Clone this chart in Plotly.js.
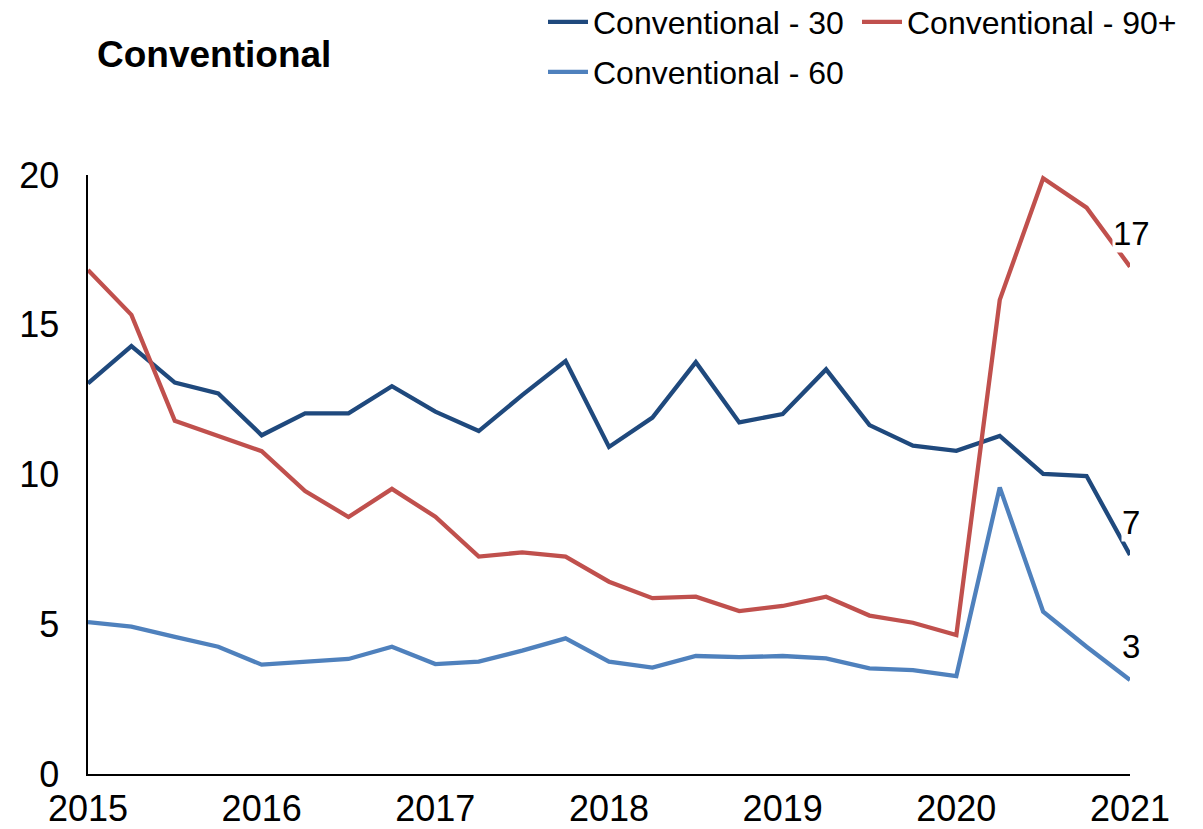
<!DOCTYPE html>
<html>
<head>
<meta charset="utf-8">
<script src="https://cdn.plot.ly/plotly-3.0.1.min.js"></script>
<style>
  html, body { margin: 0; padding: 0; background: #ffffff; }
  #chart { width: 1203px; height: 829px; }
</style>
</head>
<body>
<div id="chart"></div>
<script>
// Quarterly observations, 2015 Q1 .. 2021 Q1 (fractional years)
const quarters = [2015, 2015.25, 2015.5, 2015.75,
                  2016, 2016.25, 2016.5, 2016.75,
                  2017, 2017.25, 2017.5, 2017.75,
                  2018, 2018.25, 2018.5, 2018.75,
                  2019, 2019.25, 2019.5, 2019.75,
                  2020, 2020.25, 2020.5, 2020.75,
                  2021];

const seriesNames = ["Conventional - 30", "Conventional - 60", "Conventional - 90+"];

const conv30 = [13.04, 14.29, 13.07, 12.71, 11.31, 12.04, 12.04, 12.95, 12.10, 11.45, 12.65, 13.79,
                10.92, 11.90, 13.75, 11.74, 12.02, 13.51, 11.65, 10.96, 10.79, 11.29, 10.02, 9.95, 7.31];
const conv60 = [5.07, 4.92, 4.58, 4.25, 3.65, 3.75, 3.84, 4.25, 3.67, 3.75, 4.12, 4.53,
                3.75, 3.55, 3.94, 3.90, 3.94, 3.86, 3.53, 3.47, 3.27, 9.57, 5.42, 4.25, 3.14];
const conv90 = [16.83, 15.33, 11.79, 11.29, 10.78, 9.45, 8.58, 9.52, 8.59, 7.26, 7.40, 7.26,
                6.42, 5.87, 5.92, 5.44, 5.61, 5.92, 5.29, 5.05, 4.64, 15.83, 19.89, 18.91, 16.94];

const yearTicks = [2015, 2016, 2017, 2018, 2019, 2020, 2021];
const yearLabels = ["2015", "2016", "2017", "2018", "2019", "2020", "2021"];
const yTicks = [0, 5, 10, 15, 20];

const colors = ["#1F497D", "#4F81BD", "#C0504D"];
const FONT = "Arial, 'Liberation Sans', Helvetica, sans-serif";

const allSeries = [conv30, conv60, conv90];
const legendFor = ["legend", "legend2", "legend"];
const rankFor = [1, 3, 2];
const legendWidths = [259, 290, 290];

const traces = allSeries.map((vals, i) => ({
  type: "scatter",
  mode: "lines",
  x: quarters,
  y: vals,
  name: seriesNames[i],
  legend: legendFor[i],
  legendrank: rankFor[i],
  legendwidth: legendWidths[i],
  line: { color: colors[i], width: 4.3 },
  hoverinfo: "skip"
}));

const annotations = allSeries.map((vals, i) => ({
  x: quarters[quarters.length - 1],
  y: vals[vals.length - 1],
  xref: "x", yref: "y",
  text: String(Math.round(vals[vals.length - 1])),
  showarrow: false,
  xshift: 1,
  yshift: 33,
  bgcolor: "#ffffff",
  borderpad: 0,
  font: { family: FONT, size: 33, color: "#000000" }
}));

const layout = {
  width: 1203,
  height: 829,
  paper_bgcolor: "#ffffff",
  plot_bgcolor: "#ffffff",
  margin: { l: 88, r: 73, t: 175, b: 55 },
  showlegend: true,
  title: {
    text: "<b>Conventional</b>",
    font: { family: FONT, size: 37, color: "#000000" },
    xref: "container", yref: "container",
    x: 97 / 1203, xanchor: "left",
    y: 1 - 54 / 829, yanchor: "middle"
  },
  legend: {
    orientation: "h",
    xref: "container", yref: "container",
    x: 543 / 1203, xanchor: "left",
    y: 1 - 22 / 829, yanchor: "middle",
    itemwidth: 40,
    entrywidthmode: "pixels",
    font: { family: FONT, size: 32, color: "#000000" },
    bgcolor: "rgba(0,0,0,0)",
    traceorder: "normal"
  },
  legend2: {
    orientation: "h",
    xref: "container", yref: "container",
    x: 543 / 1203, xanchor: "left",
    y: 1 - 72 / 829, yanchor: "middle",
    itemwidth: 40,
    entrywidthmode: "pixels",
    font: { family: FONT, size: 32, color: "#000000" },
    bgcolor: "rgba(0,0,0,0)"
  },
  xaxis: {
    range: [2015, 2021],
    tickmode: "array",
    tickvals: yearTicks,
    ticktext: yearLabels,
    showgrid: false,
    zeroline: false,
    showline: true,
    linecolor: "#000000",
    linewidth: 1.6,
    ticks: "",
    ticklabelstandoff: 2,
    tickfont: { family: FONT, size: 36, color: "#000000" },
    fixedrange: true
  },
  yaxis: {
    range: [0, 20],
    tickmode: "array",
    tickvals: yTicks,
    showgrid: false,
    zeroline: false,
    showline: true,
    linecolor: "#000000",
    linewidth: 1.6,
    ticks: "",
    ticklabelstandoff: 20,
    tickfont: { family: FONT, size: 36, color: "#000000" },
    fixedrange: true
  },
  annotations: annotations
};

Plotly.newPlot("chart", traces, layout, { displayModeBar: false, staticPlot: true });
</script>
</body>
</html>
